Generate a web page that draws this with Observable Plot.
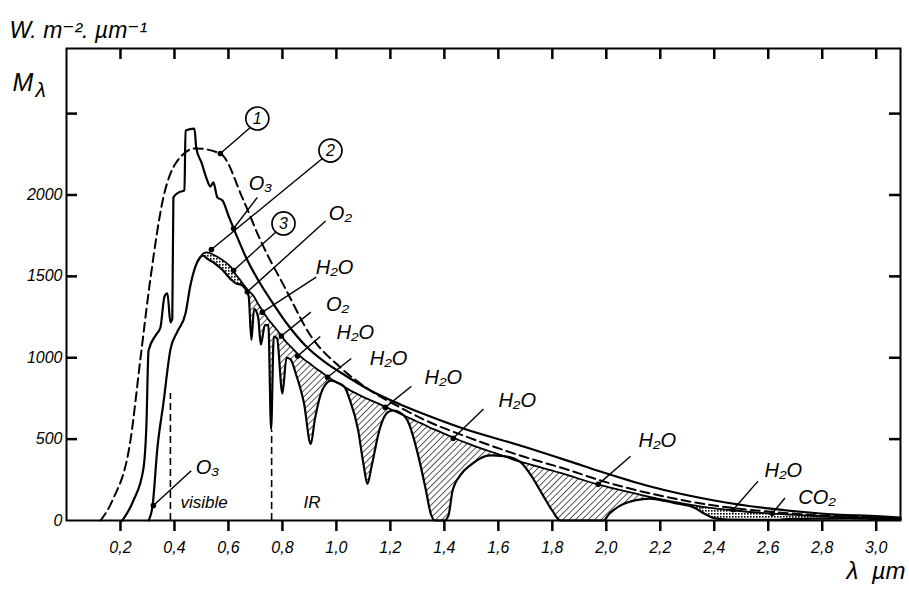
<!DOCTYPE html>
<html><head><meta charset="utf-8">
<script src="https://cdn.jsdelivr.net/npm/d3@7"></script>
<script src="https://cdn.jsdelivr.net/npm/@observablehq/plot@0.6"></script>
<style>
html,body{margin:0;padding:0;background:#fff;}
#chart{position:relative;width:909px;height:591px;}
#chart svg{position:absolute;left:0;top:0;}
svg text{font-style:italic;}
</style>
</head><body><div id="chart"></div>
<script>
// ---- Data (wavelength in µm, M in W.m-2.µm-1) ----
// Curve 1: black body (dashed)
const lam1 = [0.126,0.17,0.237,0.274,0.311,0.359,0.404,0.478,0.57,0.656,0.719,0.811,0.904,1.015,1.126,1.237,1.348,1.47,1.681,1.867,1.978,2.163,2.4,2.6,2.793,3.015,3.09];
const val1 = [0,123,492,995,1487,1985,2193,2286,2255,1966,1720,1425,1137,940,799,694,602,522,399,307,246,166,92,55,31,18,12];
// Curve 2: outside the atmosphere
const lam2 = [0.207,0.248,0.285,0.296,0.304,0.33,0.348,0.363,0.374,0.385,0.392,0.396,0.415,0.437,0.441,0.474,0.481,0.5,0.519,0.533,0.544,0.559,0.578,0.6,0.63,0.667,0.711,0.763,0.822,0.885,0.959,1.033,1.126,1.237,1.348,1.47,1.681,1.867,1.978,2.163,2.4,2.6,2.793,3.015,3.09];
const val2 = [0,123,319,584,1044,1137,1186,1376,1395,1217,1241,1985,2015,2028,2396,2408,2286,2200,2101,2052,2077,1985,1966,1874,1751,1610,1475,1339,1198,1075,971,891,799,713,639,565,461,362,301,209,123,74,43,25,18];
// Curve 3: at sea level — envelope (no absorption) and actual (with absorption bands)
const lam3 = [0.304,0.319,0.337,0.359,0.385,0.411,0.441,0.459,0.485,0.507,0.52,0.55,0.58,0.61,0.63,0.645,0.66,0.675,0.685,0.695,0.71,0.72,0.735,0.748,0.758,0.768,0.78,0.80,0.815,0.83,0.85,0.88,0.905,0.92,0.95,0.98,1.00,1.03,1.05,1.08,1.10,1.115,1.13,1.16,1.19,1.21,1.25,1.27,1.30,1.33,1.35,1.365,1.40,1.415,1.43,1.46,1.50,1.57,1.62,1.68,1.72,1.76,1.80,1.83,1.99,2.01,2.05,2.11,2.16,2.25,2.33,2.36,2.40,2.45,2.60,2.65,2.70,2.80,2.90,3.00,3.09];
const env3 = [0,92,449,720,1050,1161,1272,1444,1590,1640,1647,1628,1598,1555,1505,1475,1440,1410,1395,1375,1330,1305,1265,1235,1215,1195,1170,1125,1095,1070,1035,990,960,940,905,870,850,820,800,775,758,747,737,715,692,676,645,630,607,585,568,558,533,522,512,490,465,424,396,362,344,325,306,292,212,204,188,165,145,115,92,84,75,66,44,39,34,26,20,15,11];
const sea3 = [0,92,449,720,1050,1161,1272,1444,1590,1628,1610,1579,1536,1480,1455,1450,1430,1380,1110,1300,1250,1080,1200,1200,560,1130,1120,780,1000,990,900,720,470,620,810,860,850,820,740,560,350,225,330,560,665,676,645,590,420,200,40,0,0,30,180,280,345,400,396,362,280,170,60,0,0,40,90,125,135,108,75,45,15,6,4,6,10,12,13,10,8];

// Spectral limits
const limitLam = [0.385, 0.76];
const limitTop = [780, 553];
const limitText = ["visible", "IR"];
const limitTextLam = [0.422, 0.878];
const limitTextVal = [111, 111];

// Axis ticks
const xTicks = [0.2,0.4,0.6,0.8,1.0,1.2,1.4,1.6,1.8,2.0,2.2,2.4,2.6,2.8,3.0];
const xTickLabels = ["0,2","0,4","0,6","0,8","1,0","1,2","1,4","1,6","1,8","2,0","2,2","2,4","2,6","2,8","3,0"];
const yTicks = [0,500,1000,1500,2000];
const yTickLabels = ["0","500","1000","1500","2000"];
const yInnerTicks = [500,1000,1500,2000,2500];

// Annotations: labels with leader lines (data coordinates)
const labelText = ["O₃","O₂","H₂O","O₂","H₂O","H₂O","H₂O","H₂O","H₂O","H₂O","CO₂","O₃"];
const labelLam  = [0.719,1.015,0.993,1.004,1.070,1.193,1.396,1.670,2.189,2.656,2.781,0.522];
const labelVal  = [2071,1886,1554,1327,1155,995,879,737,492,307,141,326];
const leaderFromLam = [0.707,0.960,0.925,0.905,0.940,1.055,1.278,1.545,2.090,2.562,2.662,0.462];
const leaderFromVal = [1985,1840,1495,1280,1130,995,825,685,395,242,138,305];
const leaderToLam   = [0.619,0.670,0.726,0.796,0.856,0.967,1.181,1.433,1.970,2.470,2.615,0.322];
const leaderToVal   = [1794,1405,1280,1134,1010,880,695,505,222,66,44,92];
// Curve numbers in circles
const circleText = ["1","2","3"];
const circleLam = [0.707,0.978,0.804];
const circleVal = [2470,2273,1825];
const circleLeaderFromLam = [0.681,0.948,0.778];
const circleLeaderFromVal = [2415,2224,1776];
const circleLeaderToLam = [0.570,0.537,0.619];
const circleLeaderToVal = [2255,1665,1536];

// ---- Tables ----
const c1 = lam1.map((l,i)=>({lam:l, v:val1[i]}));
const c2 = lam2.map((l,i)=>({lam:l, v:val2[i]}));
const c3 = lam3.map((l,i)=>({lam:l, env:env3[i], sea:sea3[i]}));
const limits = limitLam.map((l,i)=>({lam:l, top:limitTop[i]}));
const limitLabels = limitText.map((t,i)=>({t, lam:limitTextLam[i], v:limitTextVal[i]}));
const labels = labelText.map((t,i)=>({t, lam:labelLam[i], v:labelVal[i]}));
const leaders = leaderFromLam.map((l,i)=>({x1:l, y1:leaderFromVal[i], x2:leaderToLam[i], y2:leaderToVal[i]}));
const circles = circleText.map((t,i)=>({t, lam:circleLam[i], v:circleVal[i]}));
const cLeaders = circleLeaderFromLam.map((l,i)=>({x1:l, y1:circleLeaderFromVal[i], x2:circleLeaderToLam[i], y2:circleLeaderToVal[i]}));
const xLabelMap = new Map(xTicks.map((t,i)=>[t, xTickLabels[i]]));
const yLabelMap = new Map(yTicks.map((t,i)=>[t, yTickLabels[i]]));

const isDots = d => (d.lam >= 0.48 && d.lam <= 0.66) || d.lam >= 2.33;
const isLines = d => d.lam >= 0.66 && d.lam <= 2.36;

const W = 909, H = 591, ML = 66, MR = 9, MT = 48, MB = 71;
const font = "Liberation Sans, Arial, DejaVu Sans, sans-serif";
const xMax = 3.09, yMax = 2900;
const tkx = 11 / ((W - ML - MR) / xMax), tky = 11 / ((H - MT - MB) / yMax);

const svg = Plot.plot({
  width: W, height: H,
  marginLeft: ML, marginRight: MR, marginTop: MT, marginBottom: MB,
  x: {domain: [0, xMax]},
  y: {domain: [0, yMax]},
  style: {fontFamily: font, fontSize: "15px", background: "white", color: "black"},
  marks: [
    Plot.frame({stroke: "black", strokeWidth: 2}),
    Plot.axisX(xTicks, {anchor: "bottom", tickSize: 0, tickPadding: 21, tickFormat: d => xLabelMap.get(d), fontSize: 16, label: null}),
    Plot.axisY(yTicks, {anchor: "left", tickSize: 0, tickPadding: 4, tickFormat: d => yLabelMap.get(d), fontSize: 16, label: null}),
    // absorption bands
    Plot.areaY(c3, {x: "lam", y1: d => isLines(d) ? d.env : NaN, y2: d => isLines(d) ? d.sea : NaN, fill: "url(#hatch)", curve: "monotone-x"}),
    Plot.areaY(c3, {x: "lam", y1: d => isDots(d) ? d.env : NaN, y2: d => isDots(d) ? d.sea : NaN, fill: "url(#dots)", curve: "monotone-x"}),
    // limits visible / IR
    Plot.ruleX(limits, {x: "lam", y1: 0, y2: "top", stroke: "black", strokeWidth: 1.6, strokeDasharray: "7,4"}),
    // curves
    Plot.line(c1, {x: "lam", y: "v", stroke: "black", strokeWidth: 2, strokeDasharray: "9,5", curve: "monotone-x"}),
    Plot.line(c2, {x: "lam", y: "v", stroke: "black", strokeWidth: 2.2, curve: "monotone-x"}),
    Plot.line(c3.filter(d => d.lam >= 0.48), {x: "lam", y: "env", stroke: "black", strokeWidth: 1.8, curve: "monotone-x"}),
    Plot.line(c3, {x: "lam", y: "sea", stroke: "black", strokeWidth: 2.2, curve: "monotone-x"}),
    // leaders
    Plot.link(leaders, {x1: "x1", y1: "y1", x2: "x2", y2: "y2", stroke: "black", strokeWidth: 1.4}),
    Plot.dot(leaders, {x: "x2", y: "y2", r: 2.8, fill: "black"}),
    Plot.link(cLeaders, {x1: "x1", y1: "y1", x2: "x2", y2: "y2", stroke: "black", strokeWidth: 1.4}),
    Plot.dot(cLeaders, {x: "x2", y: "y2", r: 2.8, fill: "black"}),
    Plot.dot(circles, {x: "lam", y: "v", r: 11.5, stroke: "black", strokeWidth: 1.7, fill: "white"}),
    Plot.text(circles, {x: "lam", y: "v", text: "t", fontSize: 16, fontFamily: font}),
    Plot.text(labels, {x: "lam", y: "v", text: "t", fontSize: 20, fontFamily: font}),
    Plot.text(limitLabels, {x: "lam", y: "v", text: "t", fontSize: 17, textAnchor: "start", fontFamily: font}),
    // axis titles
    Plot.text(["W. m⁻². µm⁻¹"], {frameAnchor: "top-left", dx: -57, dy: -27, textAnchor: "start", fontSize: 23, fontFamily: font}),
    Plot.text(["M"], {frameAnchor: "top-left", dx: -54, dy: 25, textAnchor: "start", fontSize: 25, fontFamily: font}),
    Plot.text(["λ"], {frameAnchor: "top-left", dx: -31, dy: 34, textAnchor: "start", fontSize: 21, fontFamily: font}),
    Plot.text(["λ  µm"], {frameAnchor: "bottom-right", dx: 5, dy: 58, textAnchor: "end", fontSize: 24, fontFamily: font})
  ]
});

// hatch patterns built in the SVG namespace
const defs = d3.select(svg).insert("defs", ":first-child");
const ph = defs.append("pattern").attr("id", "hatch").attr("patternUnits", "userSpaceOnUse")
  .attr("width", 4.5).attr("height", 4.5).attr("patternTransform", "rotate(45)");
ph.append("line").attr("x1", 0).attr("y1", 0).attr("x2", 0).attr("y2", 4.5).attr("stroke", "black").attr("stroke-width", 1.3);
const pd = defs.append("pattern").attr("id", "dots").attr("patternUnits", "userSpaceOnUse")
  .attr("width", 3).attr("height", 3);
pd.append("rect").attr("x", 0).attr("y", 0).attr("width", 1.6).attr("height", 1.6).attr("fill", "black");

// Tick marks on all four sides, drawn by a second plot with the same scales, laid over the chart
const tickLayer = Plot.plot({
  width: W, height: H,
  marginLeft: ML, marginRight: MR, marginTop: MT, marginBottom: MB,
  x: {domain: [0, xMax], axis: null},
  y: {domain: [0, yMax], axis: null},
  style: {background: "transparent"},
  marks: [
    Plot.ruleX(xTicks, {x: d => d, y1: yMax - tky, y2: yMax, stroke: "black", strokeWidth: 2.5}),
    Plot.ruleX(xTicks, {x: d => d, y1: 0, y2: -tky, stroke: "black", strokeWidth: 2.5}),
    Plot.ruleY(yInnerTicks, {y: d => d, x1: 0, x2: tkx, stroke: "black", strokeWidth: 2.5}),
    Plot.ruleY(yInnerTicks, {y: d => d, x1: xMax - tkx, x2: xMax, stroke: "black", strokeWidth: 2.5})
  ]
});
tickLayer.style.background = "transparent";
tickLayer.style.pointerEvents = "none";

const holder = document.getElementById("chart");
holder.appendChild(svg);
holder.appendChild(tickLayer);
</script></body></html>
